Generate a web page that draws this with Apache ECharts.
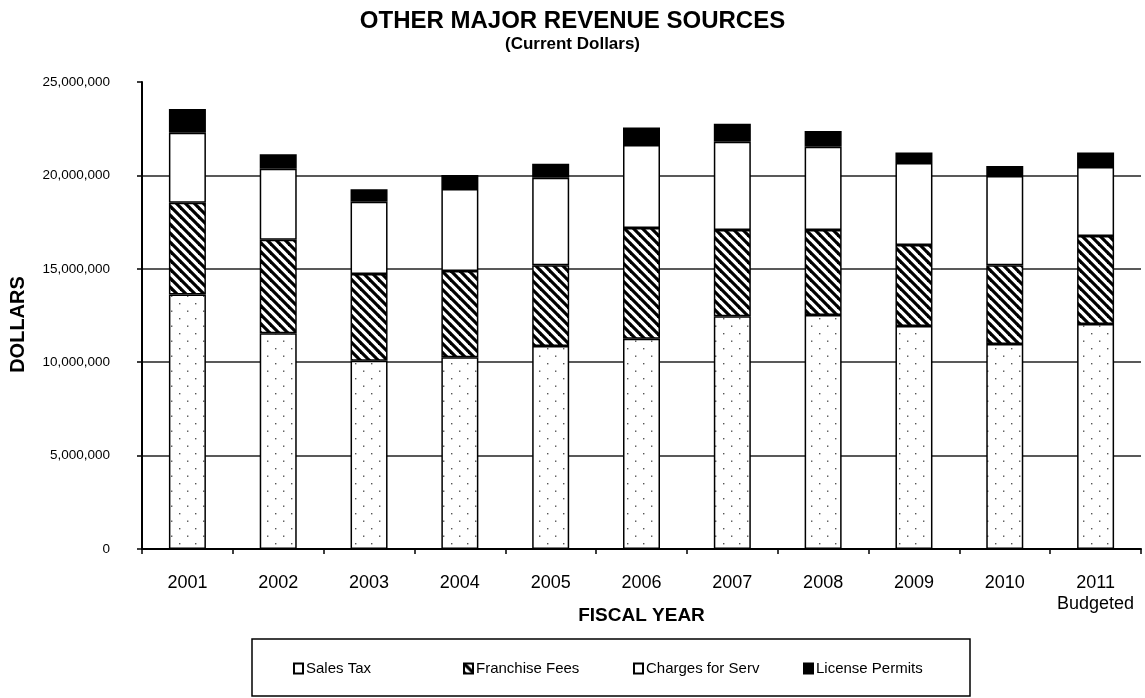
<!DOCTYPE html>
<html>
<head>
<meta charset="utf-8">
<script src="https://cdn.jsdelivr.net/npm/echarts@6/dist/echarts.min.js"></script>
<style>
  html, body { margin: 0; padding: 0; background: #fff; }
  #chart { width: 1145px; height: 698px; }
</style>
</head>
<body>
<div id="chart"></div>
<script>
// Fiscal years and revenue by source (current dollars)
const years = ['2001', '2002', '2003', '2004', '2005', '2006', '2007', '2008', '2009', '2010', '2011\nBudgeted'];
const salesTax = [13630000, 11550000, 10080000, 10260000, 10870000, 11260000, 12460000, 12530000, 11940000, 10970000, 12050000];
const franchiseFees = [4910000, 5010000, 4640000, 4620000, 4320000, 5920000, 4620000, 4550000, 4330000, 4220000, 4710000];
const chargesForServ = [3740000, 3800000, 3870000, 4390000, 4690000, 4450000, 4720000, 4460000, 4390000, 4780000, 3690000];
const licensePermits = [1270000, 770000, 670000, 750000, 750000, 940000, 970000, 840000, 560000, 530000, 770000];
const seriesNames = ['Sales Tax', 'Franchise Fees', 'Charges for Serv', 'License Permits'];

const FONT = '"Liberation Sans", Arial, sans-serif';

// Sparse staggered dot fill
function dotPattern() {
  const c = document.createElement('canvas');
  c.width = 16; c.height = 15;
  const g = c.getContext('2d');
  g.fillStyle = '#fff';
  g.fillRect(0, 0, 16, 15);
  g.fillStyle = '#555';
  g.fillRect(3, 3, 1.4, 1.4);
  g.fillRect(11, 10.5, 1.4, 1.4);
  return c;
}

// Diagonal "\" hatch fill
function hatchPattern() {
  const s = 9;
  const c = document.createElement('canvas');
  c.width = s; c.height = s;
  const g = c.getContext('2d');
  g.fillStyle = '#fff';
  g.fillRect(0, 0, s, s);
  g.strokeStyle = '#000';
  g.lineWidth = 3.2;
  for (const k of [-s, 0, s]) {
    g.beginPath();
    g.moveTo(k - 1, -1);
    g.lineTo(k + s + 1, s + 1);
    g.stroke();
  }
  return c;
}

const fills = [
  { image: dotPattern(), repeat: 'repeat' },
  { image: hatchPattern(), repeat: 'repeat' },
  '#ffffff',
  '#000000'
];
const values = [salesTax, franchiseFees, chargesForServ, licensePermits];

const series = seriesNames.map((name, i) => ({
  name: name,
  type: 'bar',
  stack: 'total',
  barWidth: 37,
  data: values[i],
  itemStyle: { color: fills[i], borderColor: '#000', borderWidth: 1.5 },
  emphasis: { disabled: true }
}));

// One legend block per entry, evenly spaced inside a framed box
const legendLeft = [293, 463, 633, 803];
const legends = seriesNames.map((name, i) => ({
  data: [i === 0 ? { name: name, itemStyle: { color: '#fff' } } : name],
  left: legendLeft[i],
  top: 661,
  padding: 0,
  icon: 'rect',
  itemWidth: 9,
  itemHeight: 10,
  itemGap: 0,
  selectedMode: false,
  textStyle: { fontFamily: FONT, fontSize: 15, color: '#000', padding: [0, 0, 0, -2] }
}));

const chart = echarts.init(document.getElementById('chart'), null, { renderer: 'canvas' });
chart.setOption({
  animation: false,
  backgroundColor: '#fff',
  title: [
    {
      text: 'OTHER MAJOR REVENUE SOURCES',
      left: 'center', top: 4,
      textStyle: { fontFamily: FONT, fontSize: 24, fontWeight: 'bold', color: '#000' }
    },
    {
      text: '(Current Dollars)',
      left: 'center', top: 31,
      textStyle: { fontFamily: FONT, fontSize: 17, fontWeight: 'bold', color: '#000' }
    }
  ],
  legend: legends,
  grid: { left: 141, right: 4, top: 82, bottom: 149, containLabel: false },
  xAxis: {
    type: 'category',
    data: years,
    name: 'FISCAL YEAR',
    nameLocation: 'middle',
    nameGap: 57,
    nameMoveOverlap: false,
    nameTextStyle: { fontFamily: FONT, fontSize: 19, fontWeight: 'bold', color: '#000' },
    axisLine: { lineStyle: { color: '#000', width: 2 } },
    axisTick: { show: true, inside: false, length: 5, lineStyle: { color: '#000', width: 1.5 } },
    axisLabel: { fontFamily: FONT, fontSize: 18, color: '#000', margin: 24, lineHeight: 21, interval: 0 }
  },
  yAxis: {
    type: 'value',
    min: 0, max: 25000000, interval: 5000000,
    name: 'DOLLARS',
    nameLocation: 'middle',
    nameGap: 114,
    nameRotate: 90,
    nameTextStyle: {
      fontFamily: FONT, fontSize: 20, fontWeight: 'bold', color: '#000',
      padding: [0, 18, 0, 0]
    },
    axisLine: { show: true, lineStyle: { color: '#000', width: 2 } },
    axisTick: { show: true, inside: false, length: 5, lineStyle: { color: '#000', width: 1.5 } },
    axisLabel: {
      fontFamily: FONT, fontSize: 13.5, color: '#000', margin: 32,
      formatter: v => v.toLocaleString('en-US')
    },
    splitLine: {
      show: true,
      lineStyle: { color: ['#222', '#222', '#222', '#222', '#222', 'rgba(0,0,0,0)'], width: 1.5 }
    }
  },
  graphic: [{
    type: 'rect',
    shape: { x: 252, y: 639, width: 718, height: 57 },
    style: { fill: 'none', stroke: '#000', lineWidth: 1.5 },
    silent: true
  }],
  series: series
});
</script>
</body>
</html>
